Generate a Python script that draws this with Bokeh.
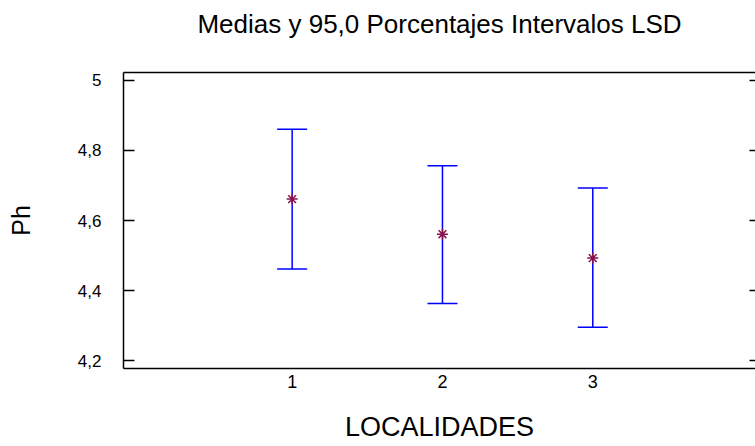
from bokeh.plotting import figure
from bokeh.models import FixedTicker, LinearAxis, Range1d, Whisker, ColumnDataSource, TeeHead
from bokeh.embed import file_html
from bokeh.resources import INLINE

# ---- data ----
categories = [1, 2, 3]
xtick_labels = ["1", "2", "3"]
means = [4.661, 4.561, 4.493]
lower = [4.462, 4.364, 4.296]
upper = [4.860, 4.756, 4.693]
ytick_values = [4.2, 4.4, 4.6, 4.8, 5.0]
ytick_labels = ["4,2", "4,4", "4,6", "4,8", "5"]

title_text = "Medias y 95,0 Porcentajes Intervalos LSD"
x_label = "LOCALIDADES"
y_label = "Ph"

REG = "Liberation Sans"

p = figure(width=755, height=446, output_backend="svg", toolbar_location=None,
           x_range=Range1d(-0.122, 4.0825), y_range=Range1d(4.1786, 5.0216),
           min_border_left=123, min_border_right=0, min_border_top=72, min_border_bottom=78,
           x_axis_location=None, y_axis_location=None)
p.outline_line_color = None
p.xgrid.visible = False
p.ygrid.visible = False
p.background_fill_color = "white"
p.border_fill_color = "white"

# left axis
left = LinearAxis(ticker=FixedTicker(ticks=ytick_values),
                  major_label_overrides=dict(zip(ytick_values, ytick_labels)),
                  axis_label=y_label)
left.axis_line_width = 1.5
left.major_tick_in = 11
left.major_tick_out = 0
left.major_tick_line_width = 1.5
left.major_label_standoff = 22
left.major_label_text_font = REG
left.major_label_text_font_size = "17px"
left.major_label_text_color = "black"
left.axis_label_text_font = REG
left.axis_label_text_font_size = "25px"
left.axis_label_text_font_style = "normal"
left.axis_label_text_color = "black"
left.axis_label_standoff = 40
p.add_layout(left, "left")

# bottom axis
bottom = LinearAxis(ticker=FixedTicker(ticks=categories),
                    major_label_overrides=dict(zip(categories, xtick_labels)),
                    axis_label=x_label)
bottom.axis_line_width = 1.5
bottom.major_tick_in = 0
bottom.major_tick_out = 0
bottom.major_label_standoff = 6
bottom.major_label_text_font = REG
bottom.major_label_text_font_size = "18px"
bottom.major_label_text_color = "black"
bottom.axis_label_text_font = REG
bottom.axis_label_text_font_size = "27px"
bottom.axis_label_text_font_style = "normal"
bottom.axis_label_text_color = "black"
bottom.axis_label_standoff = 21
p.add_layout(bottom, "below")

# top frame line, carrying the chart title as its label
top = LinearAxis(ticker=FixedTicker(ticks=[]), axis_label=title_text)
top.axis_line_width = 1.5
top.major_tick_in = 0
top.major_tick_out = 0
top.major_label_standoff = 0
top.axis_label_text_font = REG
top.axis_label_text_font_size = "26px"
top.axis_label_text_font_style = "normal"
top.axis_label_text_color = "black"
top.axis_label_standoff = 34
p.add_layout(top, "above")

# right ticks (axis line itself lies just outside the view)
right = LinearAxis(ticker=FixedTicker(ticks=ytick_values),
                   major_label_overrides={v: "" for v in ytick_values})
right.axis_line_color = None
right.major_tick_in = 6
right.major_tick_out = 0
right.major_tick_line_width = 1.5
right.major_label_standoff = 0
p.add_layout(right, "right")

# error bars
src = ColumnDataSource(dict(x=categories, mean=means, lower=lower, upper=upper))
wh = Whisker(base="x", upper="upper", lower="lower", source=src,
             line_color="blue", line_width=1.5, level="underlay",
             upper_head=TeeHead(size=30, line_color="blue", line_width=1.5),
             lower_head=TeeHead(size=30, line_color="blue", line_width=1.5))
p.add_layout(wh)

p.scatter(x="x", y="mean", source=src, marker="asterisk", size=11,
          line_color="#8B1050", line_width=1.5)

open("out.html", "w").write(file_html(p, INLINE))
